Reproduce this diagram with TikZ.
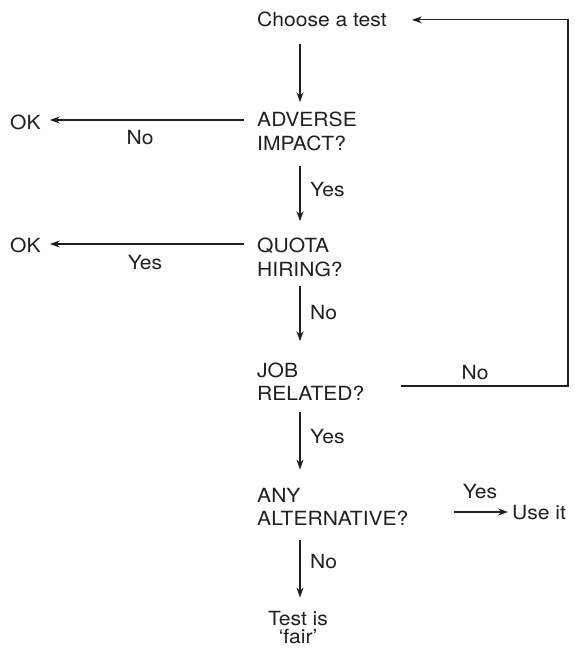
\documentclass[tikz,border=0pt]{standalone}
\usepackage{fontspec}
\setmainfont[FakeStretch=1.08]{TeX Gyre Heros}
\usetikzlibrary{arrows.meta}
\definecolor{ink}{HTML}{231F20}
\newcommand\lbf{\fontsize{19.5}{23.5}\selectfont}
\newcommand\lbft{\fontsize{19.5}{18.5}\selectfont}
\tikzset{
  txt/.style={font=\lbf, inner sep=0pt, text=ink},
  arr/.style={draw=ink, line width=1.2pt, -{Stealth[length=10pt,width=7pt]}}
}
\begin{document}
\begin{tikzpicture}[x=1pt,y=-1pt]
\useasboundingbox (0,0) rectangle (574,652);
\coordinate (spine) at (300,0);
\coordinate (loop) at (568,0);
% main nodes (base anchor = baseline of the last line)
\node[txt, anchor=base west] (choose) at (257,27) {Choose a test};
\node[txt, anchor=base west, align=left] (adverse) at (257,150.5) {ADVERSE\\IMPACT?};
\node[txt, anchor=base west, align=left] (quota) at (257,276) {QUOTA\\HIRING?};
\node[txt, anchor=base west, align=left] (job) at (257,400.5) {JOB\\RELATED?};
\node[txt, anchor=base west, align=left] (any) at (257,525.5) {ANY\\ALTERNATIVE?};
\node[txt, font=\lbft, anchor=base, align=center] (test) at (298,643.5) {Test is\\`fair'};
\node[txt, anchor=base west] (ok1) at (10,130) {OK};
\node[txt, anchor=base west] (ok2) at (10,252.5) {OK};
\node[txt, anchor=base west] (use) at (512,519) {Use it};
% vertical arrows
\draw[arr, shorten <=16pt, shorten >=10pt] (choose.south -| spine) -- (adverse.north -| spine);
\draw[arr, shorten <=14.5pt, shorten >=16.5pt] (adverse.south -| spine) -- (quota.north -| spine);
\draw[arr, shorten <=9pt, shorten >=21pt] (quota.south -| spine) -- (job.north -| spine);
\draw[arr, shorten <=11.5pt, shorten >=18pt] (job.south -| spine) -- (any.north -| spine);
\draw[arr, shorten <=14.5pt, shorten >=13pt] (any.south -| spine) -- (test.north -| spine);
% horizontal arrows
\coordinate (a1) at ([yshift=30.5pt]adverse.base west);
\draw[arr, shorten <=13pt, shorten >=9pt] (a1) -- (a1 -| ok1.east);
\coordinate (a2) at ([yshift=32pt]quota.base west);
\draw[arr, shorten <=13pt, shorten >=9pt] (a2) -- (a2 -| ok2.east);
\coordinate (a3) at ([yshift=14.5pt]job.base west);
\draw[arr, shorten <=36pt, shorten >=25pt] (a3 -| job.east) -- (a3 -| loop) |- (choose.east);
\coordinate (a5) at ([yshift=13.5pt]any.base west);
\draw[arr, shorten <=45pt, shorten >=4pt] (a5 -| any.east) -- (a5 -| use.west);
% labels
\node[txt] (l1) at (140,138) {No};
\node[txt] (l2) at (145,263) {Yes};
\node[txt, anchor=west] (l3) at (310,190) {Yes};
\node[txt, anchor=west] (l4) at (310,313) {No};
\node[txt] (l5) at (475,373) {No};
\node[txt, anchor=west] (l6) at (310,437) {Yes};
\node[txt] (l7) at (480,492) {Yes};
\node[txt, anchor=west] (l8) at (310,562) {No};
\end{tikzpicture}
\end{document}
